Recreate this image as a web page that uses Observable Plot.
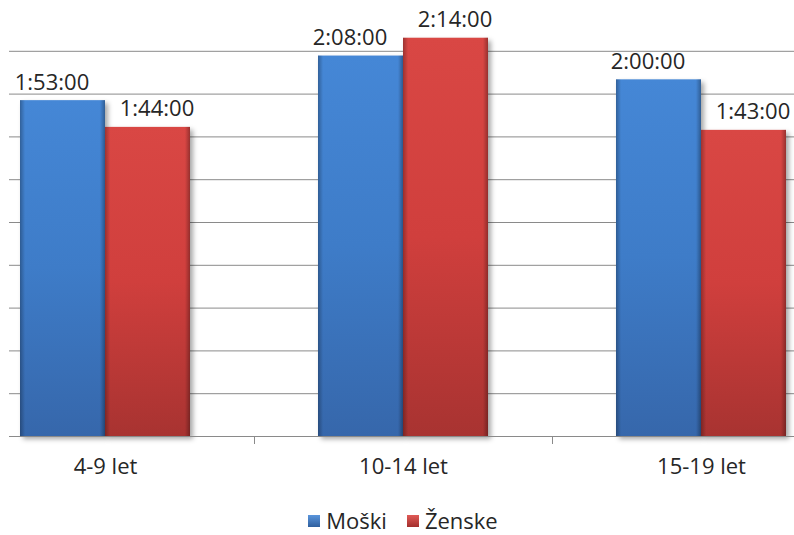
<!DOCTYPE html>
<html>
<head>
<meta charset="utf-8">
<script src="https://cdn.jsdelivr.net/npm/d3@7"></script>
<script src="https://cdn.jsdelivr.net/npm/@observablehq/plot@0.6"></script>
<style>
  html, body { margin: 0; padding: 0; background: #fff; overflow: hidden; }
  #chart { width: 794px; height: 535px; position: relative; font-family: "Open Sans", sans-serif; }
  #chart svg { display: block; }
  #chart svg g.shadowed { filter: drop-shadow(3px 3px 2.5px rgba(0,0,0,0.35)); }
  .legend { position: absolute; left: 0; top: 505px; width: 794px; height: 30px; box-sizing: border-box;
            display: flex; justify-content: center; align-items: center; gap: 20px;
            padding-left: 12px; font-size: 22px; color: #262626; line-height: 30px; }
  .legend span.item { display: inline-flex; align-items: center; gap: 6px; }
  .legend i { display: inline-block; width: 12px; height: 12px; box-sizing: border-box; margin-top: 2px; }
</style>
</head>
<body>
<div id="chart"></div>
<script>
// Daily time, by age group and sex (h:mm:ss)
const categories = ["4-9 let", "10-14 let", "15-19 let"];
const series = ["Moški", "Ženske"];
const moski = ["1:53:00", "2:08:00", "2:00:00"];
const zenske = ["1:44:00", "2:14:00", "1:43:00"];

// Value axis runs in steps of 0.01 day (14.4 min) up to 0.1 day
const gridStepMinutes = 14.4;
const axisMaxMinutes = 144;

const toMinutes = s => {
  const [h, m, sec] = s.split(":").map(Number);
  return h * 60 + m + sec / 60;
};

const rows = categories.flatMap((category, i) => [
  {category, series: series[0], time: moski[i], minutes: toMinutes(moski[i])},
  {category, series: series[1], time: zenske[i], minutes: toMinutes(zenske[i])}
]);
const men = rows.filter(d => d.series === series[0]);
const women = rows.filter(d => d.series === series[1]);

// Category bands: each group holds two bars side by side in the middle of its band
const xRange = [-44, 850];
const band = (xRange[1] - xRange[0]) / categories.length;
const barW = 85;
const outer = (band - 2 * barW) / 2;
const leftBar = {insetLeft: outer, insetRight: band - outer - barW};
const rightBar = {insetLeft: outer + barW, insetRight: outer};

const gridTicks = d3.range(1, Math.round(axisMaxMinutes / gridStepMinutes)).map(i => i * gridStepMinutes);

const bars = (data, pos, fillId) => [
  Plot.barY(data, {x: "category", y: "minutes", fill: `url(#${fillId})`, ...pos, className: "shadowed"}),
  Plot.barY(data, {x: "category", y: "minutes", fill: "url(#edgeShade)", ...pos}),
  Plot.tickY(data, {x: "category", y: "minutes", dy: 4, strokeWidth: 8, stroke: "url(#bevel)", ...pos})
];

const labelFont = {lineAnchor: "bottom", fontSize: 22, fill: "#262626", dy: -11};

const plot = Plot.plot({
  width: 794,
  height: 500,
  marginTop: 8,
  marginBottom: 64,
  marginLeft: 9,
  marginRight: 0,
  style: {fontFamily: "Open Sans, sans-serif", fontSize: "22px", color: "#262626", background: "transparent", overflow: "hidden"},
  x: {type: "band", domain: categories, range: xRange, padding: 0, label: null},
  y: {domain: [0, axisMaxMinutes], axis: null},
  marks: [
    Plot.gridY(gridTicks, {stroke: "#8a8a8a", strokeOpacity: 1, strokeWidth: 1}),
    ...bars(men, leftBar, "blueFill"),
    ...bars(women, rightBar, "redFill"),
    Plot.ruleY([0], {stroke: "#8a8a8a", strokeWidth: 1.2}),
    Plot.axisX({tickSize: 8, tickFormat: () => "", dx: band / 2, stroke: "#8a8a8a", label: null}),
    Plot.axisX({tickSize: 0, tickPadding: 22, fontSize: 22, fill: "#262626", label: null}),
    Plot.text(men, {x: "category", y: "minutes", text: "time", dx: -(band / 2 - outer - barW / 2) - 11, ...labelFont}),
    Plot.text(women, {x: "category", y: "minutes", text: "time", dx: (band / 2 - outer - barW / 2) + 9, ...labelFont})
  ]
});

// Gradients for the bevelled bar look
const svg = d3.select(plot);
const defs = svg.insert("defs", ":first-child");
const vgrad = (id, stops) => {
  const g = defs.append("linearGradient").attr("id", id).attr("x1", 0).attr("y1", 0).attr("x2", 0).attr("y2", 1);
  stops.forEach(([o, c]) => g.append("stop").attr("offset", o).attr("stop-color", c));
};
vgrad("blueFill", [[0, "#4587d6"], [0.5, "#3e7cc8"], [1, "#3667ab"]]);
vgrad("redFill", [[0, "#d94744"], [0.5, "#d03f3d"], [1, "#a83331"]]);
const edge = defs.append("linearGradient").attr("id", "edgeShade").attr("x1", 0).attr("y1", 0).attr("x2", 1).attr("y2", 0);
[[0, "rgba(0,0,0,0.28)"], [0.06, "rgba(0,0,0,0.0)"], [0.94, "rgba(0,0,0,0.0)"], [1, "rgba(0,0,0,0.3)"]]
  .forEach(([o, c]) => edge.append("stop").attr("offset", o).attr("stop-color", c));
const bevel = defs.append("linearGradient").attr("id", "bevel").attr("gradientUnits", "objectBoundingBox")
  .attr("x1", 0).attr("y1", 0).attr("x2", 0).attr("y2", 1);
[[0, "rgba(255,255,255,0.45)"], [1, "rgba(255,255,255,0.12)"]]
  .forEach(([o, c]) => bevel.append("stop").attr("offset", o).attr("stop-color", c));

const root = document.getElementById("chart");
root.appendChild(plot);

// Legend below the plot
const legend = document.createElement("div");
legend.className = "legend";
const swatch = {"Moški": "linear-gradient(#5a95dc, #2f5f9e)", "Ženske": "linear-gradient(#e05a57, #a32f2d)"};
series.forEach(s => {
  const item = document.createElement("span");
  item.className = "item";
  const sw = document.createElement("i");
  sw.style.background = swatch[s];
  item.appendChild(sw);
  item.appendChild(document.createTextNode(s));
  legend.appendChild(item);
});
root.appendChild(legend);
</script>
</body>
</html>
